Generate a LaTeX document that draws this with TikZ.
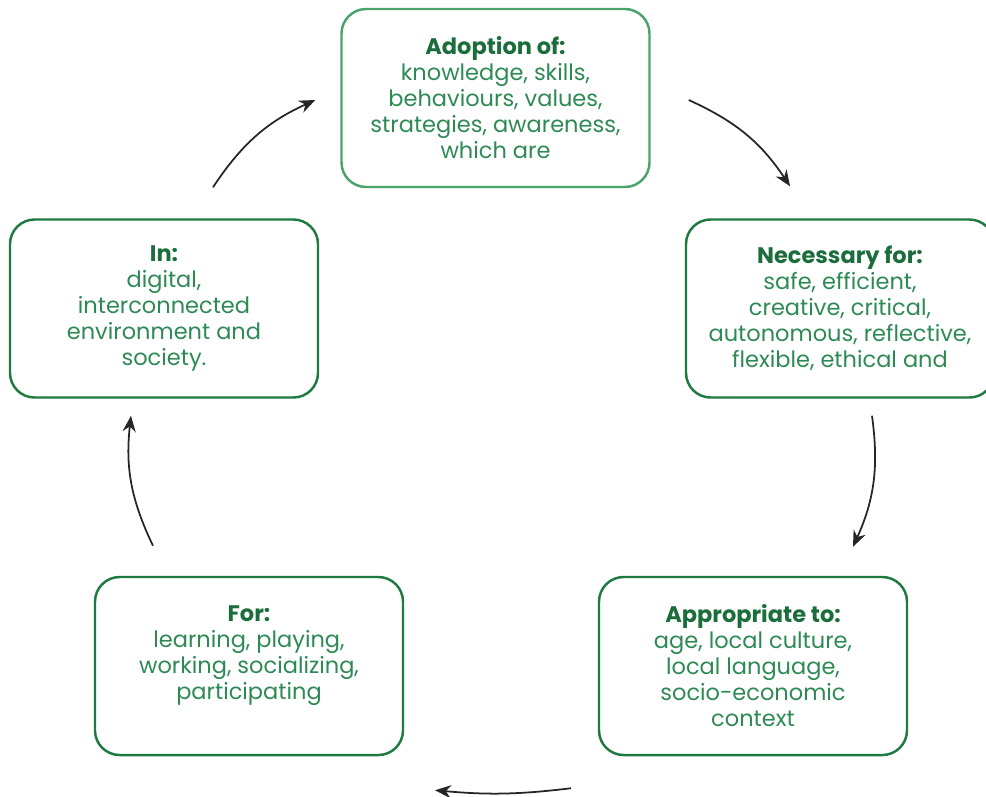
\documentclass[tikz,border=0pt]{standalone}
\usepackage{fontspec}
\setmainfont{Poppins}
\usetikzlibrary{arrows.meta}
\definecolor{titlegreen}{HTML}{1B6E3C}
\definecolor{bodygreen}{HTML}{2E8A55}
\definecolor{edgegreen}{HTML}{1F7A42}
\definecolor{softgreen}{HTML}{4BA36B}
\begin{document}
\begin{tikzpicture}[
  stage/.style={draw=edgegreen, line width=1.4pt, rounded corners=14pt,
    minimum width=6.16cm, minimum height=3.56cm, align=center,
    text=bodygreen, font=\fontsize{12.8}{14.8}\selectfont},
  cycarrow/.style={-{Stealth[length=3.2mm,width=2.6mm]}, line width=1pt, black!85, bend left=16}
]
  % Fixed frame of the figure
  \useasboundingbox (0,0) rectangle (19.72,-15.92);

  % The five stages of the cycle
  \node[stage, draw=softgreen] (adopt) at (9.91,-1.96)
    {\textbf{\color{titlegreen}Adoption of:}\\knowledge, skills,\\behaviours, values,\\strategies, awareness,\\which are};
  \node[stage] (necess) at (16.80,-6.17)
    {\textbf{\color{titlegreen}Necessary for:}\\safe, efficient,\\creative, critical,\\autonomous, reflective,\\flexible, ethical and};
  \node[stage] (approp) at (15.06,-13.32)
    {\textbf{\color{titlegreen}Appropriate to:}\\age, local culture,\\local language,\\socio-economic\\context};
  \node[stage] (forall) at (4.98,-13.32)
    {\textbf{\color{titlegreen}For:}\\learning, playing,\\working, socializing,\\participating\\\mbox{}};
  \node[stage] (inenv) at (3.28,-6.17)
    {\textbf{\color{titlegreen}In:}\\digital,\\interconnected\\environment and\\society.};

  % Arrows going round clockwise
  \draw[cycarrow] ([xshift=0.76cm,yshift=-0.04cm]adopt.east) to ([xshift=-1.0cm,yshift=0.64cm]necess.north);
  \draw[cycarrow] ([xshift=0.64cm,yshift=-0.34cm]necess.south) to ([xshift=2.0cm,yshift=0.58cm]approp.north);
  \draw[cycarrow, bend left=6] ([xshift=-3.64cm,yshift=-0.64cm]approp.south) to ([xshift=3.72cm,yshift=-0.68cm]forall.south);
  \draw[cycarrow] ([xshift=-1.92cm,yshift=0.6cm]forall.north) to ([xshift=-0.66cm,yshift=-0.34cm]inenv.south);
  \draw[cycarrow] ([xshift=0.98cm,yshift=0.62cm]inenv.north) to ([xshift=-0.5cm,yshift=-0.04cm]adopt.west);
\end{tikzpicture}
\end{document}
